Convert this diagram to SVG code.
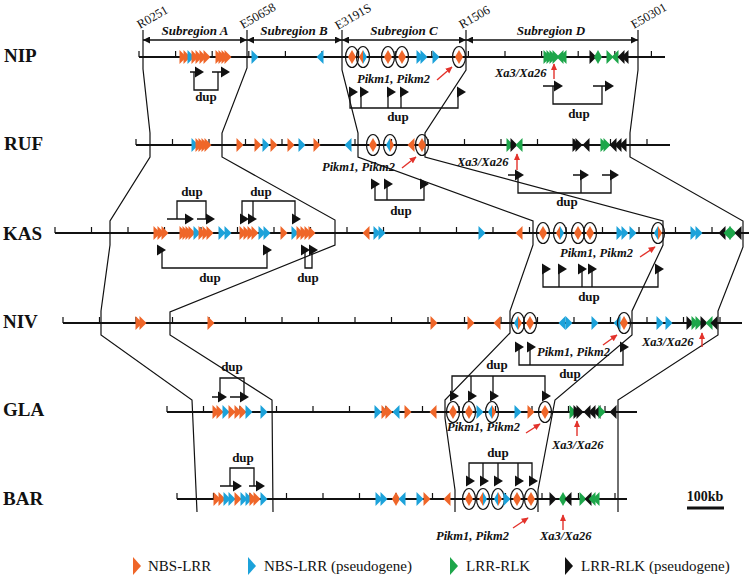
<svg xmlns="http://www.w3.org/2000/svg" width="750" height="580" viewBox="0 0 750 580">
<style>
.chr{stroke:#111;stroke-width:2;fill:none}
.tk{stroke:#111;stroke-width:1.2;fill:none}
.bd{stroke:#111;stroke-width:1.2;fill:none}
.br{stroke:#111;stroke-width:1.3;fill:none}
.o{fill:#EF6629}.b{fill:#1CA2DA}.g{fill:#1DA64A}.k{fill:#111}
.el{fill:none;stroke:#111;stroke-width:1.2}
.red{stroke:#E3322B;stroke-width:1.4;fill:none}
.name{font-family:"Liberation Serif",serif;font-weight:bold;font-size:19px;fill:#111}
.gl{font-family:"Liberation Serif",serif;font-weight:bold;font-style:italic;font-size:12.5px;fill:#111}
.dup{font-family:"Liberation Serif",serif;font-weight:bold;font-size:13px;fill:#111;text-anchor:middle}
.sub{font-family:"Liberation Serif",serif;font-weight:bold;font-style:italic;font-size:13px;fill:#111;text-anchor:middle}
.bl{font-family:"Liberation Serif",serif;font-size:12.5px;fill:#111}
.leg{font-family:"Liberation Serif",serif;font-size:15px;fill:#111}
.sc{font-family:"Liberation Serif",serif;font-weight:bold;font-size:14px;fill:#111;text-anchor:middle}
</style>
<defs>
<path id="r" d="M-3.5,-7 L3.5,0 L-3.5,7 Z"/>
<path id="l" d="M3.5,-7 L-3.5,0 L3.5,7 Z"/>
<path id="hl" d="M0,-7 L-4,0 L0,7 Z"/>
<path id="hr" d="M0,-7 L4,0 L0,7 Z"/>
<path id="da" d="M0,-5.5 L9,0 L0,5.5 Z"/>
<path id="lg" d="M-4,-9 L4,0 L-4,9 Z"/>
<marker id="ra" viewBox="0 0 10 10" refX="9" refY="5" markerWidth="7" markerHeight="7" orient="auto" markerUnits="userSpaceOnUse"><path d="M0,0.5 L10,5 L0,9.5 Z" fill="#E3322B"/></marker>
<marker id="sa" viewBox="0 0 10 10" refX="10" refY="5" markerWidth="9" markerHeight="7" orient="auto-start-reverse" markerUnits="userSpaceOnUse"><path d="M0,0 L10,5 L0,10 Z" fill="#111"/></marker>
</defs>

<g id="header">
<text class="bl" transform="translate(140,29) rotate(-30)">R0251</text>
<text class="bl" transform="translate(243,29) rotate(-30)">E50658</text>
<text class="bl" transform="translate(338,30) rotate(-30)">E3191S</text>
<text class="bl" transform="translate(462,29) rotate(-30)">R1506</text>
<text class="bl" transform="translate(634,29) rotate(-30)">E50301</text>
<g class="br" marker-start="url(#sa)" marker-end="url(#sa)">
<path d="M143,40H247"/><path d="M247,40H342"/><path d="M342,40H466"/><path d="M466,40H638"/>
</g>
<text class="sub" x="195" y="35">Subregion A</text>
<text class="sub" x="294" y="35">Subregion B</text>
<text class="sub" x="404" y="35">Subregion C</text>
<text class="sub" x="551" y="35">Subregion D</text>
</g>

<g id="connectors">
<path class="bd" d="M143,30V69L150,133V157L110,221V245L101,311V335L192,400L197,512"/>
<path class="bd" d="M247,30V68L222,133V157L335,220V245L170,312V335L272,400L273,512"/>
<path class="bd" d="M342,30V70L358,133V157L533,221V245L510,311V333L445,400V418L455,490V512"/>
<path class="bd" d="M466,30V70L425,133V157L663,221V245L632,311V335L555,400L538,490V512"/>
<path class="bd" d="M638,30V70L630,133V157L743,221V247L718,311V335L618,400V512"/>
</g>

<g id="row-NIP">
<text class="name" x="4" y="62">NIP</text>
<path class="chr" d="M139,57H665"/>
<path class="tk" d="M139,51V57M175.6,51V57M212.2,51V57M248.8,51V57M285.4,51V57M322,51V57M358.6,51V57M395.2,51V57M431.8,51V57M468.4,51V57M505,51V57M541.6,51V57M578.2,51V57M614.8,51V57M651.4,51V57"/>
<use href="#r" x="183" y="57" class="o"/><use href="#r" x="187" y="57" class="o"/><use href="#r" x="191" y="57" class="b"/>
<use href="#r" x="195" y="57" class="o"/><use href="#r" x="199" y="57" class="o"/><use href="#r" x="203" y="57" class="o"/><use href="#r" x="207" y="57" class="o"/>
<use href="#r" x="219" y="57" class="o"/><use href="#r" x="222" y="57" class="o"/><use href="#r" x="225" y="57" class="o"/><use href="#r" x="228" y="57" class="o"/>
<use href="#r" x="255" y="57" class="b"/><use href="#l" x="320" y="57" class="b"/>
<use href="#hl" x="352" y="57" class="o"/><use href="#hr" x="352" y="57" class="o"/><ellipse class="el" cx="352" cy="57" rx="6.5" ry="10.5"/>
<use href="#hl" x="363" y="57" class="o"/><use href="#hr" x="363" y="57" class="b"/><ellipse class="el" cx="363" cy="57" rx="6.5" ry="10.5"/>
<use href="#hl" x="388" y="57" class="o"/><use href="#hr" x="388" y="57" class="o"/><ellipse class="el" cx="388" cy="57" rx="6.5" ry="10.5"/>
<use href="#hl" x="402" y="57" class="o"/><use href="#hr" x="402" y="57" class="o"/><ellipse class="el" cx="402" cy="57" rx="6.5" ry="10.5"/>
<use href="#r" x="420" y="57" class="b"/><use href="#r" x="424" y="57" class="b"/><use href="#r" x="436" y="57" class="b"/>
<use href="#hl" x="459" y="57" class="o"/><use href="#hr" x="459" y="57" class="o"/><ellipse class="el" cx="459" cy="57" rx="6.5" ry="10.5"/>
<use href="#r" x="547" y="57" class="g"/><use href="#r" x="550" y="57" class="g"/><use href="#r" x="553" y="57" class="g"/><use href="#r" x="556" y="57" class="g"/><use href="#l" x="560" y="57" class="g"/><use href="#l" x="563" y="57" class="g"/>
<use href="#r" x="593" y="57" class="k"/><use href="#hl" x="598" y="57" class="g"/><use href="#hr" x="598" y="57" class="g"/>
<use href="#r" x="610" y="57" class="g"/><use href="#l" x="615" y="57" class="g"/><use href="#l" x="621" y="57" class="k"/><use href="#l" x="625" y="57" class="k"/>
<text class="gl" x="357" y="83">Pikm1, Pikm2</text>
<path class="red" marker-end="url(#ra)" d="M437,80L452,67"/>
<text class="gl" x="495" y="77">Xa3/Xa26</text>
<path class="red" marker-end="url(#ra)" d="M554,79V64"/>
</g>

<g id="row-RUF">
<text class="name" x="4" y="150">RUF</text>
<path class="chr" d="M136,145H670"/>
<path class="tk" d="M136,139V145M172.5,139V145M209,139V145M245.5,139V145M282,139V145M318.5,139V145M355,139V145M391.5,139V145M428,139V145M464.5,139V145M501,139V145M537.5,139V145M574,139V145M610.5,139V145M647,139V145"/>
<use href="#r" x="195" y="145" class="b"/><use href="#r" x="199" y="145" class="o"/><use href="#r" x="202" y="145" class="o"/><use href="#r" x="205" y="145" class="o"/><use href="#r" x="208" y="145" class="o"/>
<use href="#r" x="240" y="145" class="o"/><use href="#r" x="258" y="145" class="o"/><use href="#r" x="266" y="145" class="b"/><use href="#r" x="274" y="145" class="o"/><use href="#r" x="291" y="145" class="o"/><use href="#r" x="302" y="145" class="b"/><use href="#r" x="317" y="145" class="o"/><use href="#l" x="348" y="145" class="b"/>
<use href="#hl" x="373" y="145" class="o"/><use href="#hr" x="373" y="145" class="o"/><ellipse class="el" cx="373" cy="145" rx="6.5" ry="10.5"/>
<use href="#hl" x="390" y="145" class="b"/><use href="#hr" x="390" y="145" class="o"/><ellipse class="el" cx="390" cy="145" rx="6.5" ry="10.5"/>
<use href="#l" x="411" y="145" class="o"/>
<use href="#hl" x="422" y="145" class="o"/><use href="#hr" x="422" y="145" class="o"/><ellipse class="el" cx="422" cy="145" rx="6.5" ry="10.5"/>
<use href="#r" x="510" y="145" class="g"/><use href="#r" x="514" y="145" class="k"/><use href="#l" x="519" y="145" class="g"/>
<use href="#r" x="576" y="145" class="k"/><use href="#r" x="579" y="145" class="k"/><use href="#l" x="586" y="145" class="k"/>
<use href="#r" x="604" y="145" class="g"/><use href="#r" x="607" y="145" class="g"/><use href="#l" x="613" y="145" class="k"/><use href="#l" x="618" y="145" class="k"/><use href="#l" x="623" y="145" class="k"/>
<text class="gl" x="322" y="171">Pikm1, Pikm2</text>
<path class="red" marker-end="url(#ra)" d="M402,168L416,157"/>
<text class="gl" x="457" y="166">Xa3/Xa26</text>
<path class="red" marker-end="url(#ra)" d="M517,170V154"/>
</g>

<g id="row-KAS">
<text class="name" x="3" y="240">KAS</text>
<path class="chr" d="M55,233H749"/>
<path class="tk" d="M55,227V233M91.5,227V233M128,227V233M164.5,227V233M201,227V233M237.5,227V233M274,227V233M310.5,227V233M347,227V233M383.5,227V233M420,227V233M456.5,227V233M493,227V233M529.5,227V233M566,227V233M602.5,227V233M639,227V233M675.5,227V233M712,227V233"/>
<use href="#r" x="157" y="233" class="o"/><use href="#r" x="161" y="233" class="o"/><use href="#r" x="165" y="233" class="o"/>
<use href="#r" x="183" y="233" class="o"/><use href="#r" x="186" y="233" class="o"/><use href="#r" x="189" y="233" class="o"/><use href="#r" x="192" y="233" class="o"/><use href="#r" x="197" y="233" class="b"/><use href="#r" x="202" y="233" class="o"/><use href="#r" x="206" y="233" class="o"/><use href="#r" x="210" y="233" class="o"/>
<use href="#r" x="222" y="233" class="b"/><use href="#r" x="228" y="233" class="b"/>
<use href="#r" x="243" y="233" class="o"/><use href="#r" x="247" y="233" class="o"/><use href="#r" x="251" y="233" class="o"/><use href="#r" x="255" y="233" class="o"/><use href="#r" x="262" y="233" class="b"/><use href="#r" x="267" y="233" class="b"/>
<use href="#r" x="284" y="233" class="o"/><use href="#r" x="295" y="233" class="b"/><use href="#r" x="300" y="233" class="o"/><use href="#r" x="304" y="233" class="o"/><use href="#r" x="308" y="233" class="o"/><use href="#r" x="312" y="233" class="o"/>
<use href="#l" x="366" y="233" class="o"/><use href="#r" x="377" y="233" class="b"/><use href="#r" x="382" y="233" class="b"/>
<use href="#r" x="482" y="233" class="b"/><use href="#l" x="519" y="233" class="o"/>
<use href="#hl" x="543" y="233" class="o"/><use href="#hr" x="543" y="233" class="o"/><ellipse class="el" cx="543" cy="233" rx="6.5" ry="10.5"/>
<use href="#hl" x="560" y="233" class="o"/><use href="#hr" x="560" y="233" class="b"/><ellipse class="el" cx="560" cy="233" rx="6.5" ry="10.5"/>
<use href="#hl" x="578" y="233" class="o"/><use href="#hr" x="578" y="233" class="o"/><ellipse class="el" cx="578" cy="233" rx="6.5" ry="10.5"/>
<use href="#hl" x="590" y="233" class="o"/><use href="#hr" x="590" y="233" class="o"/><ellipse class="el" cx="590" cy="233" rx="6.5" ry="10.5"/>
<use href="#r" x="620" y="233" class="b"/><use href="#r" x="625" y="233" class="b"/><use href="#r" x="633" y="233" class="b"/>
<use href="#hl" x="658" y="233" class="b"/><use href="#hr" x="658" y="233" class="o"/><ellipse class="el" cx="658" cy="233" rx="6.5" ry="10.5"/>
<use href="#r" x="694" y="233" class="b"/><use href="#r" x="699" y="233" class="b"/>
<use href="#l" x="722" y="233" class="k"/><use href="#l" x="727" y="233" class="g"/><use href="#r" x="733" y="233" class="g"/><use href="#l" x="738" y="233" class="k"/>
<text class="gl" x="560" y="257">Pikm1, Pikm2</text>
<path class="red" marker-end="url(#ra)" d="M640,257L655,247"/>
</g>

<g id="row-NIV">
<text class="name" x="3" y="328">NIV</text>
<path class="chr" d="M63,323H742"/>
<path class="tk" d="M63,317V323M99.5,317V323M136,317V323M172.5,317V323M209,317V323M245.5,317V323M282,317V323M318.5,317V323M355,317V323M391.5,317V323M428,317V323M464.5,317V323M501,317V323M537.5,317V323M574,317V323M610.5,317V323M647,317V323M683.5,317V323M720,317V323"/>
<use href="#r" x="139" y="323" class="o"/><use href="#r" x="143" y="323" class="o"/><use href="#r" x="211" y="323" class="o"/>
<use href="#r" x="434" y="323" class="o"/><use href="#r" x="471" y="323" class="o"/><use href="#l" x="497" y="323" class="o"/>
<use href="#hl" x="518" y="323" class="b"/><use href="#hr" x="518" y="323" class="o"/><ellipse class="el" cx="518" cy="323" rx="6.5" ry="10.5"/>
<use href="#hl" x="530" y="323" class="o"/><use href="#hr" x="530" y="323" class="o"/><ellipse class="el" cx="530" cy="323" rx="6.5" ry="10.5"/>
<use href="#l" x="562" y="323" class="b"/><use href="#r" x="569" y="323" class="b"/><use href="#r" x="595" y="323" class="b"/><use href="#l" x="617" y="323" class="b"/>
<use href="#hl" x="624" y="323" class="o"/><use href="#hr" x="624" y="323" class="o"/><ellipse class="el" cx="624" cy="323" rx="6.5" ry="10.5"/>
<use href="#r" x="660" y="323" class="b"/><use href="#r" x="669" y="323" class="b"/>
<use href="#r" x="690" y="323" class="k"/><use href="#r" x="695" y="323" class="g"/><use href="#r" x="699" y="323" class="g"/><use href="#r" x="704" y="323" class="k"/><use href="#l" x="709" y="323" class="g"/><use href="#l" x="714" y="323" class="k"/>
<text class="gl" x="537" y="356">Pikm1, Pikm2</text>
<path class="red" marker-end="url(#ra)" d="M603,345L617,335"/>
<text class="gl" x="642" y="346">Xa3/Xa26</text>
<path class="red" marker-end="url(#ra)" d="M702,347V333"/>
</g>

<g id="row-GLA">
<text class="name" x="3" y="416">GLA</text>
<path class="chr" d="M167,412H637"/>
<path class="tk" d="M167,406V412M203.5,406V412M240,406V412M276.5,406V412M313,406V412M349.5,406V412M386,406V412M422.5,406V412M459,406V412M495.5,406V412M532,406V412M568.5,406V412M605,406V412"/>
<use href="#r" x="216" y="412" class="o"/><use href="#r" x="220" y="412" class="o"/><use href="#r" x="226" y="412" class="b"/><use href="#r" x="232" y="412" class="o"/><use href="#r" x="238" y="412" class="o"/><use href="#r" x="243" y="412" class="o"/><use href="#r" x="249" y="412" class="b"/><use href="#r" x="264" y="412" class="b"/>
<use href="#r" x="378" y="412" class="b"/><use href="#r" x="385" y="412" class="o"/><use href="#r" x="389" y="412" class="o"/><use href="#l" x="396" y="412" class="b"/><use href="#r" x="408" y="412" class="o"/><use href="#l" x="433" y="412" class="o"/>
<use href="#hl" x="453" y="412" class="o"/><use href="#hr" x="453" y="412" class="o"/><ellipse class="el" cx="453" cy="412" rx="6.5" ry="10.5"/>
<use href="#hl" x="469" y="412" class="o"/><use href="#hr" x="469" y="412" class="o"/><ellipse class="el" cx="469" cy="412" rx="6.5" ry="10.5"/>
<use href="#r" x="480" y="412" class="b"/>
<use href="#hl" x="492" y="412" class="b"/><use href="#hr" x="492" y="412" class="o"/><ellipse class="el" cx="492" cy="412" rx="6.5" ry="10.5"/>
<use href="#r" x="518" y="412" class="b"/><use href="#r" x="531" y="412" class="o"/>
<use href="#hl" x="545" y="412" class="o"/><use href="#hr" x="545" y="412" class="o"/><ellipse class="el" cx="545" cy="412" rx="6.5" ry="10.5"/>
<use href="#r" x="573" y="412" class="g"/><use href="#r" x="577" y="412" class="k"/><use href="#r" x="580" y="412" class="k"/><use href="#l" x="587" y="412" class="k"/><use href="#l" x="592" y="412" class="k"/><use href="#l" x="597" y="412" class="k"/><use href="#r" x="602" y="412" class="g"/><use href="#l" x="613" y="412" class="k"/>
<text class="gl" x="447" y="431">Pikm1, Pikm2</text>
<path class="red" marker-end="url(#ra)" d="M526,433L540,424"/>
<text class="gl" x="552" y="449">Xa3/Xa26</text>
<path class="red" marker-end="url(#ra)" d="M577,436V421"/>
</g>

<g id="row-BAR">
<text class="name" x="3" y="505">BAR</text>
<path class="chr" d="M177,499H627"/>
<path class="tk" d="M177,493V499M213.5,493V499M250,493V499M286.5,493V499M323,493V499M359.5,493V499M396,493V499M432.5,493V499M469,493V499M505.5,493V499M542,493V499M578.5,493V499M615,493V499"/>
<use href="#r" x="217" y="499" class="o"/><use href="#r" x="222" y="499" class="o"/><use href="#r" x="227" y="499" class="b"/><use href="#r" x="232" y="499" class="b"/><use href="#r" x="238" y="499" class="o"/><use href="#r" x="244" y="499" class="b"/><use href="#r" x="249" y="499" class="b"/><use href="#r" x="253" y="499" class="o"/><use href="#r" x="257" y="499" class="o"/><use href="#r" x="264" y="499" class="b"/>
<use href="#r" x="379" y="499" class="b"/><use href="#r" x="384" y="499" class="b"/><use href="#hl" x="396" y="499" class="o"/><use href="#hr" x="396" y="499" class="o"/><use href="#l" x="402" y="499" class="b"/><use href="#r" x="420" y="499" class="b"/><use href="#r" x="427" y="499" class="o"/><use href="#l" x="447" y="499" class="o"/>
<use href="#hl" x="469" y="499" class="o"/><use href="#hr" x="469" y="499" class="o"/><ellipse class="el" cx="469" cy="499" rx="6.5" ry="10.5"/>
<use href="#hl" x="483" y="499" class="o"/><use href="#hr" x="483" y="499" class="b"/><ellipse class="el" cx="483" cy="499" rx="6.5" ry="10.5"/>
<use href="#hl" x="498" y="499" class="b"/><use href="#hr" x="498" y="499" class="o"/><ellipse class="el" cx="498" cy="499" rx="6.5" ry="10.5"/>
<use href="#r" x="507" y="499" class="b"/>
<use href="#hl" x="517" y="499" class="o"/><use href="#hr" x="517" y="499" class="o"/><ellipse class="el" cx="517" cy="499" rx="6.5" ry="10.5"/>
<use href="#hl" x="531" y="499" class="o"/><use href="#hr" x="531" y="499" class="o"/><ellipse class="el" cx="531" cy="499" rx="6.5" ry="10.5"/>
<use href="#r" x="553" y="499" class="k"/><use href="#hl" x="563" y="499" class="g"/><use href="#hr" x="563" y="499" class="g"/><use href="#l" x="568" y="499" class="k"/>
<use href="#r" x="583" y="499" class="g"/><use href="#l" x="588" y="499" class="k"/><use href="#l" x="592" y="499" class="g"/><use href="#l" x="596" y="499" class="g"/>
<text class="gl" x="436" y="540">Pikm1, Pikm2</text>
<path class="red" marker-end="url(#ra)" d="M513,528L528,518"/>
<text class="gl" x="540" y="540">Xa3/Xa26</text>
<path class="red" marker-end="url(#ra)" d="M563,530V515"/>
</g>

<g id="duplications">
<path class="br" d="M190,72H195M212,72H221M194,72V90H218V72"/>
<use href="#da" x="195" y="72" class="k"/><use href="#da" x="221" y="72" class="k"/>
<text class="dup" x="206" y="101">dup</text>

<path class="br" d="M350,92V108H458V92M361,92V108M388,92V108M401,92V108"/>
<use href="#da" x="349" y="92" class="k"/><use href="#da" x="360" y="92" class="k"/><use href="#da" x="387" y="92" class="k"/><use href="#da" x="400" y="92" class="k"/><use href="#da" x="457" y="92" class="k"/>
<text class="dup" x="398" y="121">dup</text>

<path class="br" d="M543,86H554M593,86H605M553,86V104H602V86"/>
<use href="#da" x="554" y="86" class="k"/><use href="#da" x="605" y="86" class="k"/>
<text class="dup" x="579" y="118">dup</text>

<path class="br" d="M375,184V200H424V184M387,184V200"/>
<use href="#da" x="371" y="184" class="k"/><use href="#da" x="384" y="184" class="k"/><use href="#da" x="420" y="184" class="k"/>
<text class="dup" x="401" y="215">dup</text>

<path class="br" d="M508,175H515M573,175H580M602,175H610M518,175V193H611V175M581,175V193"/>
<use href="#da" x="515" y="175" class="k"/><use href="#da" x="580" y="175" class="k"/><use href="#da" x="610" y="175" class="k"/>
<text class="dup" x="567" y="206">dup</text>

<path class="br" d="M167,219H185M197,219H206M177,219V201H206V219"/>
<use href="#da" x="185" y="219" class="k"/><use href="#da" x="206" y="219" class="k"/>
<text class="dup" x="192" y="196">dup</text>

<path class="br" d="M242,219V201H295V219M253,201V219"/>
<use href="#da" x="240" y="219" class="k"/><use href="#da" x="248" y="219" class="k"/><use href="#da" x="292" y="219" class="k"/>
<text class="dup" x="261" y="196">dup</text>

<path class="br" d="M162,250V268H267V250"/>
<use href="#da" x="157" y="250" class="k"/><use href="#da" x="263" y="250" class="k"/>
<text class="dup" x="210" y="282">dup</text>

<path class="br" d="M305,250V268H312V250"/>
<use href="#da" x="301" y="250" class="k"/><use href="#da" x="309" y="250" class="k"/>
<text class="dup" x="308" y="282">dup</text>

<path class="br" d="M543,269V287H658V269M559,269V287M582,269V287M592,269V287"/>
<use href="#da" x="542" y="269" class="k"/><use href="#da" x="558" y="269" class="k"/><use href="#da" x="578" y="269" class="k"/><use href="#da" x="588" y="269" class="k"/><use href="#da" x="655" y="269" class="k"/>
<text class="dup" x="589" y="301">dup</text>

<path class="br" d="M519,347V365H623V347M530,347V365"/>
<use href="#da" x="515" y="347" class="k"/><use href="#da" x="527" y="347" class="k"/><use href="#da" x="620" y="347" class="k"/>
<text class="dup" x="570" y="378">dup</text>

<path class="br" d="M212,397H218M230,397H240M220,397V378H244V397"/>
<use href="#da" x="218" y="397" class="k"/><use href="#da" x="240" y="397" class="k"/>
<text class="dup" x="232" y="371">dup</text>

<path class="br" d="M452,396V376H545V396M471,376V396M493,376V396"/>
<use href="#da" x="450" y="396" class="k"/><use href="#da" x="468" y="396" class="k"/><use href="#da" x="490" y="396" class="k"/><use href="#da" x="542" y="396" class="k"/>
<text class="dup" x="497" y="369">dup</text>

<path class="br" d="M220,486H233M249,486H256M230,486V468H254V486"/>
<use href="#da" x="233" y="486" class="k"/><use href="#da" x="256" y="486" class="k"/>
<text class="dup" x="243" y="462">dup</text>

<path class="br" d="M469,481V463H532V481M483,463V481M498,463V481M518,463V481"/>
<use href="#da" x="466" y="481" class="k"/><use href="#da" x="480" y="481" class="k"/><use href="#da" x="494" y="481" class="k"/><use href="#da" x="515" y="481" class="k"/><use href="#da" x="529" y="481" class="k"/>
<text class="dup" x="498" y="457">dup</text>
</g>

<g id="scale">
<text class="sc" x="705" y="501">100kb</text>
<path d="M687,508H724" stroke="#111" stroke-width="3"/>
</g>

<g id="legend">
<use href="#lg" x="137" y="566" class="o"/><text class="leg" x="148" y="571">NBS-LRR</text>
<use href="#lg" x="252" y="566" class="b"/><text class="leg" x="264" y="571">NBS-LRR (pseudogene)</text>
<use href="#lg" x="454" y="566" class="g"/><text class="leg" x="466" y="571">LRR-RLK</text>
<use href="#lg" x="569" y="566" class="k"/><text class="leg" x="581" y="571">LRR-RLK (pseudogene)</text>
</g>
</svg>
